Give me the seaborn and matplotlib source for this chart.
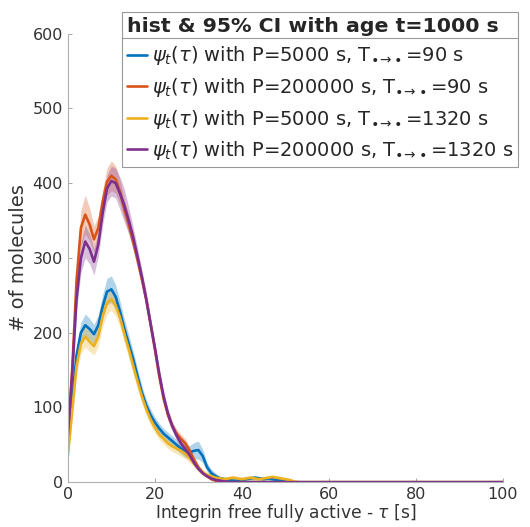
#!/usr/bin/env python

import numpy as np
import pandas as pd
import matplotlib
matplotlib.use('Agg')
import matplotlib.pyplot as plt
import seaborn as sns
from matplotlib.lines import Line2D

sns.set_theme(style='white')
plt.rcParams['font.family'] = ['DejaVu Sans']

# time grid [s]
tau = list(range(0, 56)) + [100]

# mean histogram counts
blue_mean = [45, 110, 170, 200, 210, 205, 198, 210, 235, 255,
             258, 248, 228, 205, 185, 165, 142, 120, 103, 90,
             80, 72, 65, 60, 55, 50, 45, 41, 40, 42,
             43, 35, 20, 12, 8, 5, 4, 3, 2, 2,
             3, 4, 5, 6, 5, 4, 5, 4, 3, 2,
             1, 0, 0, 0, 0, 0, 0]
orange_mean = [60, 150, 270, 340, 358, 345, 325, 340, 375, 402,
               410, 405, 388, 365, 345, 322, 298, 272, 245, 212,
               178, 142, 112, 90, 75, 65, 58, 52, 42, 30,
               20, 13, 8, 4, 2, 1, 0, 0, 0, 0,
               0, 0, 0, 0, 0, 0, 0, 0, 0, 0,
               0, 0, 0, 0, 0, 0, 0]
yellow_mean = [35, 95, 155, 185, 195, 188, 182, 195, 222, 240,
               245, 236, 220, 198, 178, 156, 135, 115, 98, 84,
               73, 64, 58, 52, 48, 45, 42, 38, 32, 25,
               18, 13, 10, 8, 6, 5, 4, 5, 6, 5,
               4, 5, 6, 5, 4, 5, 6, 7, 6, 5,
               4, 3, 1, 0, 0, 0, 0]
purple_mean = [62, 145, 245, 300, 322, 312, 295, 318, 360, 393,
               403, 400, 386, 370, 350, 328, 302, 275, 245, 212,
               180, 145, 115, 92, 75, 62, 52, 44, 36, 26,
               18, 12, 8, 5, 3, 2, 1, 0, 0, 0,
               0, 0, 0, 0, 0, 0, 0, 0, 0, 0,
               0, 0, 0, 0, 0, 0, 0]

# half width of the 95% CI bands
blue_ci = [8, 10, 12, 14, 15, 14, 13, 14, 16, 18,
           18, 16, 14, 13, 12, 11, 10, 9, 8, 8,
           7, 7, 7, 7, 7, 7, 7, 8, 9, 11,
           12, 9, 6, 5, 4, 3, 3, 3, 3, 3,
           3, 3, 3, 3, 3, 3, 3, 3, 2, 2,
           1, 0, 0, 0, 0, 0, 0]
orange_ci = [8, 12, 18, 24, 26, 22, 18, 16, 16, 18,
             20, 18, 16, 14, 13, 12, 11, 10, 10, 9,
             8, 8, 7, 7, 6, 6, 6, 6, 5, 4,
             3, 3, 2, 2, 1, 1, 0, 0, 0, 0,
             0, 0, 0, 0, 0, 0, 0, 0, 0, 0,
             0, 0, 0, 0, 0, 0, 0]
yellow_ci = [8, 10, 12, 13, 14, 13, 12, 13, 14, 15,
             15, 14, 13, 12, 12, 11, 10, 9, 8, 8,
             7, 7, 7, 7, 7, 7, 7, 7, 6, 5,
             4, 4, 3, 3, 3, 3, 3, 3, 3, 3,
             3, 3, 3, 3, 3, 3, 3, 3, 3, 3,
             2, 2, 1, 0, 0, 0, 0]
purple_ci = [8, 12, 16, 20, 22, 20, 18, 16, 16, 18,
             20, 20, 22, 22, 18, 14, 12, 10, 10, 9,
             8, 8, 7, 7, 6, 6, 6, 5, 5, 4,
             3, 3, 2, 2, 1, 1, 0, 0, 0, 0,
             0, 0, 0, 0, 0, 0, 0, 0, 0, 0,
             0, 0, 0, 0, 0, 0, 0]

sub = r'$_{\bullet\!\rightarrow\!\bullet}$'
labels = [
    r'$\psi_t(\tau)$ with P=5000 s, T' + sub + '=90 s',
    r'$\psi_t(\tau)$ with P=200000 s, T' + sub + '=90 s',
    r'$\psi_t(\tau)$ with P=5000 s, T' + sub + '=1320 s',
    r'$\psi_t(\tau)$ with P=200000 s, T' + sub + '=1320 s',
]
colors = ['#0072BD', '#D95319', '#EDB120', '#7E2F8E']

means = [blue_mean, orange_mean, yellow_mean, purple_mean]
cis = [blue_ci, orange_ci, yellow_ci, purple_ci]

frames = []
for lab, m, c in zip(labels, means, cis):
    frames.append(pd.DataFrame({'tau': tau, 'count': m, 'ci': c, 'series': lab}))
df = pd.concat(frames, ignore_index=True)

fig = plt.figure(figsize=(5.30, 5.27), dpi=100)
ax = fig.add_axes([0.128, 0.085, 0.821, 0.851])

for lab, col in zip(labels, colors):
    d = df[df['series'] == lab]
    ax.fill_between(d['tau'], d['count'] - d['ci'], d['count'] + d['ci'],
                    color=col, alpha=0.3, lw=0)

sns.lineplot(data=df, x='tau', y='count', hue='series', palette=colors,
             hue_order=labels, lw=1.9, ax=ax, legend=False)

ax.set_xlim(0, 100)
ax.set_ylim(0, 600)
ax.set_xticks(range(0, 101, 20))
ax.set_yticks(range(0, 601, 100))
ax.set_xlabel(r'Integrin free fully active - $\tau$ [s]', fontsize=12.3,
              color='#333333', labelpad=0)
ax.set_ylabel('# of molecules', fontsize=14, color='#333333', labelpad=3)
ax.tick_params(axis='both', direction='in', length=3, width=0.6, color='#999999',
               labelsize=11.5, labelcolor='#333333', pad=3.5)
ax.tick_params(bottom=True, left=True)
for s in ['top', 'right']:
    ax.spines[s].set_visible(False)
for s in ['left', 'bottom']:
    ax.spines[s].set_color('#b0b0b0')
    ax.spines[s].set_linewidth(0.8)

handles = [Line2D([], [], color=c, lw=1.9) for c in colors]


def make_legend(fsz, lsp):
    leg = ax.legend(handles, labels, loc='upper right',
                    bbox_to_anchor=(518 / 530, 1 - 12 / 527),
                    bbox_transform=fig.transFigure, borderaxespad=0,
                    fontsize=fsz, title='hist & 95% CI with age t=1000 s',
                    title_fontproperties={'weight': 'bold', 'size': fsz * 1.05},
                    alignment='left', handlelength=1.0, handletextpad=0.25,
                    labelspacing=lsp, borderpad=0.25, fancybox=False, framealpha=1)
    leg.get_frame().set_edgecolor('#999999')
    leg.get_frame().set_linewidth(0.8)
    return leg


# fit the legend box to the size it has in the reference (396 x 155 px)
fsz, lsp = 13.0, 0.4
r = fig.canvas.get_renderer()
for _ in range(6):
    leg = make_legend(fsz, lsp)
    fig.canvas.draw()
    bb = leg.get_frame().get_window_extent(r)
    fsz *= 396 / bb.width
    lsp += (155 - bb.height) / (4 * fsz * 100 / 72)
leg = make_legend(fsz, lsp)
fig.canvas.draw()

# separator line under the legend title
lb = leg.get_frame().get_window_extent(r)
tb = leg.get_title().get_window_extent(r)
yline = tb.y0 - 2
inv = fig.transFigure.inverted()
(x0, y0), (x1, _) = inv.transform([(lb.x0, yline), (lb.x1, yline)])
fig.add_artist(Line2D([x0, x1], [y0, y0], color='#999999', lw=0.8,
                      transform=fig.transFigure))

fig.savefig('out.png', dpi=100)
